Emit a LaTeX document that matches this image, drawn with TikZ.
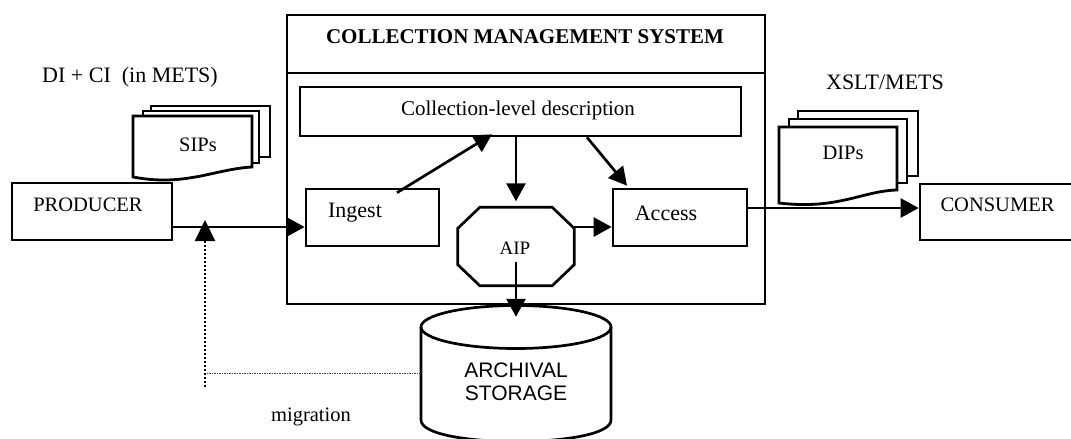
\documentclass[tikz,border=0pt]{standalone}
\usepackage{fontspec}
\setmainfont{Liberation Serif}
\newfontfamily\arialf{Liberation Sans}
\usetikzlibrary{arrows.meta}
\begin{document}
\begin{tikzpicture}[x=1pt,y=-1pt,
  box/.style={draw, line width=2.7pt, inner sep=0pt},
  blank/.style={inner sep=0pt, minimum size=0pt},
  txt/.style={inner sep=0pt, font=\fontsize{20.5}{24}\selectfont},
  bigtxt/.style={inner sep=0pt, font=\fontsize{22}{26}\selectfont},
  arr/.style={line width=2.7pt, -{Triangle[length=18pt,width=19pt]}},
  sheet/.style={line width=2.8pt, line join=miter},
  migv/.style={line width=2.2pt, dash pattern=on 2pt off 2pt, -{Triangle[length=21pt,width=20pt]}},
  migh/.style={line width=0.9pt, dash pattern=on 1.5pt off 1pt, black!75},
]
\useasboundingbox (0,0) rectangle (1071,439);

% Collection management system frame
\node[box, minimum width=478pt, minimum height=289pt] (cms) at (526,159.5) {};
\coordinate (divy) at (0,73);
\draw[line width=2.7pt] (cms.west |- divy) -- (cms.east |- divy);
\node[txt, font=\fontsize{21}{24}\selectfont\bfseries] (title) at (525,37) {COLLECTION MANAGEMENT SYSTEM};

% inner boxes
\node[box, minimum width=441pt, minimum height=49pt] (collection) at (520.5,111.5) {};
\node[txt, font=\fontsize{21}{24}\selectfont] (collectiontxt) at (518,110) {Collection-level description};
\node[box, minimum width=133pt, minimum height=57pt] (ingest) at (372.5,217.5) {};
\node[bigtxt] (ingesttxt) at (355,213) {Ingest};
\node[box, minimum width=134pt, minimum height=57pt] (access) at (680,217.5) {};
\node[bigtxt] (accesstxt) at (666,213) {Access};

% AIP octagon
\node[blank, minimum width=116pt, minimum height=78pt] (aip) at (516,246.5) {};
\draw[line width=2.7pt] ([xshift=22pt]aip.north west) -- ([xshift=-22pt]aip.north east)
  -- ([yshift=-21pt]aip.north east) -- ([yshift=21pt]aip.south east)
  -- ([xshift=-22pt]aip.south east) -- ([xshift=22pt]aip.south west)
  -- ([yshift=21pt]aip.south west) -- ([yshift=-21pt]aip.north west) -- cycle;
\node[txt, font=\fontsize{19}{22}\selectfont] (aiptxt) at (515,248) {AIP};

% producer / consumer
\node[box, minimum width=160pt, minimum height=57pt] (producer) at (92,211.5) {};
\node[txt] (producertxt) at (88,205) {PRODUCER};
\node[box, minimum width=160pt, minimum height=56pt] (consumer) at (1000,212) {};
\node[txt] (consumertxt) at (997.5,205) {CONSUMER};

% labels
\node[bigtxt] (dici) at (130,77) {DI + CI\ \ (in METS)};
\node[bigtxt] (xslt) at (885,82) {XSLT/METS};
\node[txt] (migtxt) at (311,417) {migration};

% SIPs stack
\draw[sheet] (151,111) -- (151,106) -- (270,106) -- (270,157) -- (259,157);
\draw[sheet] (143,116) -- (143,111) -- (259,111) -- (259,163) -- (252,163);
\draw[sheet] (133,116) -- (252,116) -- (252,167) .. controls (215,169) and (185,187) .. (133,177) -- cycle;
\node[txt] (sips) at (198,145) {SIPs};

% DIPs stack
\draw[sheet] (798,119) -- (798,111) -- (918,111) -- (918,176) -- (907,176);
\draw[sheet] (789,127) -- (789,119) -- (907,119) -- (907,183) -- (897,183);
\draw[sheet] (779,127) -- (897,127) -- (897,190) .. controls (862,191) and (838,210) .. (779,203) -- cycle;
\node[txt] (dips) at (843,153) {DIPs};

% Archival storage cylinder
\node[blank, minimum width=190pt, minimum height=136pt] (storage) at (516,373) {};
\draw[line width=2.7pt] (516,327) ellipse [x radius=95pt, y radius=21.5pt];
\draw[line width=2.7pt] (421,327) -- (421,420) .. controls (421,448.7) and (611,448.7) .. (611,420) -- (611,327);
\node[inner sep=0pt, font=\arialf\fontsize{21}{23.5}\selectfont, align=center] (storagetxt) at (516,382) {ARCHIVAL\\STORAGE};

% connectors
\draw[arr] ([yshift=-15.5pt]producer.east) -- ([yshift=-9.5pt]ingest.west);
\draw[arr] ([xshift=24.5pt,yshift=-5pt]ingest.north) -- ([xshift=-28.5pt,yshift=3pt]collection.south);
\draw[arr, shorten >=6pt] (collection.south -| aip.north) -- (aip.north);
\draw[arr] ([xshift=66.5pt]collection.south) -- ([xshift=-53pt,yshift=2pt]access.north);
\draw[arr] ([yshift=19.5pt]aip.east) -- ([yshift=-9.5pt]access.west);
\draw[arr] ([yshift=-15.5pt]aip.center) -- ([yshift=-12pt]storage.north);
\draw[arr] ([yshift=9.5pt]access.east) -- ([yshift=4pt]consumer.west);

% migration
\coordinate (migx) at (205,0);
\coordinate (migbot) at (205,387);
\coordinate (migtip) at (205,220);
\draw[migh] (storage.west) -- (storage.west -| migx);
\draw[migv] (migbot) -- (migtip);
\end{tikzpicture}
\end{document}
